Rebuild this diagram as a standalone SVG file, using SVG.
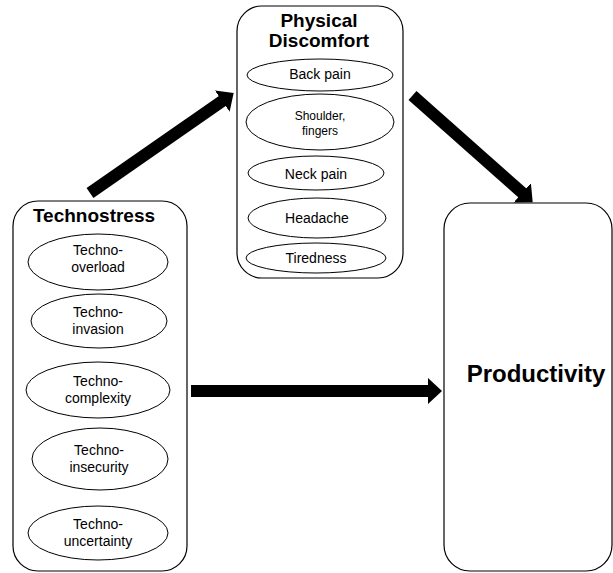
<svg xmlns="http://www.w3.org/2000/svg" width="613" height="573" viewBox="0 0 613 573">
<style>
.box{fill:#fff;stroke:#000;stroke-width:1.2}
.ell{fill:#fff;stroke:#000;stroke-width:1}
.t{font-family:"Liberation Sans",Arial,sans-serif;font-size:14px;fill:#000;text-anchor:middle}
.s{font-size:12px}
.h{font-family:"Liberation Sans",Arial,sans-serif;font-weight:bold;font-size:19px;fill:#000;text-anchor:middle}
.arr{stroke:#000;stroke-width:12;fill:none;marker-end:url(#ah)}
</style>
<defs>
<marker id="ah" markerUnits="userSpaceOnUse" markerWidth="15" markerHeight="28" refX="1" refY="13" orient="auto">
<path d="M0,0 L14,13 L0,26 Z" fill="#000"/>
</marker>
</defs>
<rect width="613" height="573" fill="#fff"/>
<g id="connectors">
<line class="arr" x1="90" y1="193" x2="223" y2="100.5"/>
<line class="arr" x1="412.5" y1="95.5" x2="523" y2="193.5"/>
<line class="arr" x1="191" y1="391" x2="429" y2="391"/>
</g>
<g id="technostress">
<rect class="box" x="13" y="201" width="174" height="370" rx="25"/>
<text class="h" x="94" y="222">Technostress</text>
<ellipse class="ell" cx="98" cy="262" rx="70" ry="28"/>
<text class="t" x="98" y="255">Techno-</text><text class="t" x="98" y="272">overload</text>
<ellipse class="ell" cx="99" cy="321" rx="68" ry="27"/>
<text class="t" x="98" y="317">Techno-</text><text class="t" x="98" y="334">invasion</text>
<ellipse class="ell" cx="98" cy="390" rx="72" ry="28"/>
<text class="t" x="98" y="386">Techno-</text><text class="t" x="98" y="403">complexity</text>
<ellipse class="ell" cx="100" cy="459" rx="68" ry="31"/>
<text class="t" x="99" y="455">Techno-</text><text class="t" x="99" y="472">insecurity</text>
<ellipse class="ell" cx="98" cy="533" rx="70" ry="27"/>
<text class="t" x="98" y="529">Techno-</text><text class="t" x="98" y="546">uncertainty</text>
</g>
<g id="physical">
<rect class="box" x="237" y="6" width="166" height="272" rx="25"/>
<text class="h" x="319" y="27">Physical</text>
<text class="h" x="319" y="47">Discomfort</text>
<ellipse class="ell" cx="320" cy="75" rx="73" ry="16"/>
<text class="t" x="320" y="79">Back pain</text>
<ellipse class="ell" cx="320" cy="122" rx="74" ry="28"/>
<text class="t s" x="320" y="120">Shoulder,</text><text class="t s" x="320" y="135">fingers</text>
<ellipse class="ell" cx="316" cy="173" rx="68" ry="17"/>
<text class="t" x="316" y="179">Neck pain</text>
<ellipse class="ell" cx="317" cy="218" rx="69" ry="20"/>
<text class="t" x="317" y="223">Headache</text>
<ellipse class="ell" cx="316" cy="258" rx="70" ry="15"/>
<text class="t" x="316" y="263">Tiredness</text>
</g>
<g id="productivity">
<rect class="box" x="444" y="203" width="168" height="368" rx="26"/>
<text class="h" x="536" y="382" style="font-size:24px">Productivity</text>
</g>
</svg>
